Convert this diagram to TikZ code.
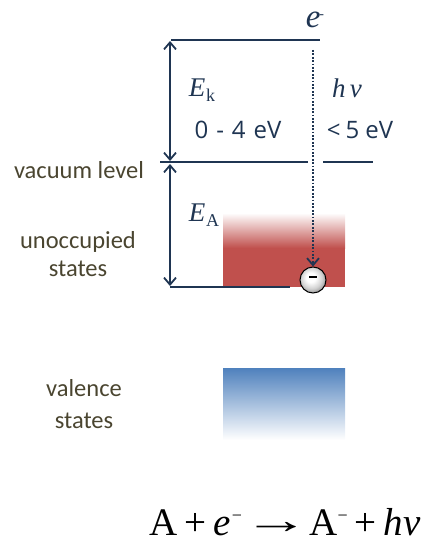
\documentclass[tikz,border=0pt]{standalone}
\usepackage{fontspec}
\setmainfont{Liberation Serif}
\newfontfamily\lblfont{Carlito}
\newfontfamily\evfont{Open Sans}
\usetikzlibrary{arrows.meta}
\definecolor{navy}{HTML}{1F3552}
\definecolor{olivetxt}{HTML}{4A4530}
\definecolor{redst}{HTML}{C0504D}
\definecolor{bluest}{HTML}{4F81BD}
\pgfdeclareradialshading{elball}{\pgfpoint{-5bp}{6bp}}{color(0bp)=(white); color(9bp)=(white); color(20bp)=(gray!35); color(27bp)=(gray!75); color(50bp)=(gray!75)}
\tikzset{
  levelline/.style={draw=navy, line width=1.8pt},
  dblarrow/.style={draw=navy, line width=1.8pt, {Straight Barb[length=7pt,width=12pt]}-{Straight Barb[length=7pt,width=12pt]}},
  dotarrow/.style={draw=navy, line width=1.8pt, dash pattern=on 1.8pt off 1.6pt, -{Straight Barb[length=7pt,width=12pt]}},
  lbl/.style={text=olivetxt, font=\lblfont\fontsize{24.5}{28}\selectfont, align=center, inner sep=0pt},
  evtxt/.style={text=navy, font=\evfont\fontsize{24}{28}\selectfont, inner sep=0pt},
  symtxt/.style={text=navy, font=\fontsize{27}{30}\selectfont, inner sep=0pt},
}
\begin{document}
\begin{tikzpicture}[x=1pt,y=-1pt]
\useasboundingbox (0,0) rectangle (424,543);
% states
\shade[top color=white, bottom color=redst] (223,213) rectangle (345,248);
\fill[redst] (223,247.5) rectangle (345,287);
\shade[top color=bluest, middle color=bluest!35, bottom color=white] (223,368) rectangle (345,440);
% coordinates
\coordinate (topL) at (171,40);
\coordinate (topR) at (320,40);
\coordinate (vacL) at (160,162);
\coordinate (vacM) at (308,162);
\coordinate (vacN) at (323,162);
\coordinate (vacR) at (373,162);
\coordinate (botL) at (170,287);
\coordinate (botR) at (290,287);
\coordinate (a1t) at (170,41);
\coordinate (a1b) at (170,161);
\coordinate (a2t) at (170,164);
\coordinate (a2b) at (170,286);
\coordinate (dtop) at (313,50);
% levels
\draw[levelline] (topL) -- (topR);
\draw[levelline] (vacL) -- (vacM);
\draw[levelline] (vacN) -- (vacR);
\draw[levelline] (botL) -- (botR);
\draw[dblarrow] (a1t) -- (a1b);
\draw[dblarrow] (a2t) -- (a2b);
% electron
\node[circle, draw=black, line width=1pt, minimum size=26pt, inner sep=0pt, shading=elball] (el) at (313,280) {};
\draw[line width=2.2pt] ([xshift=-4pt,yshift=3pt]el.center) -- ([xshift=4pt,yshift=3pt]el.center);
\draw[dotarrow] (dtop) -- (el.north);
% texts
\node[symtxt, font=\fontsize{33}{34}\selectfont] (e) at (315,20) {\itshape e\kern-1pt\raisebox{9pt}{\fontsize{14}{14}\selectfont -}};
\node[symtxt] (Ek) at (202,90) {\itshape E\kern1pt\raisebox{-5pt}{\upshape\fontsize{18}{18}\selectfont k}};
\node[symtxt] (hnu) at (347,88) {\itshape h\,ν};
\node[evtxt] (ev1) at (238,130) {0\kern8pt-\kern8pt4\kern8pt eV};
\node[evtxt] (ev2) at (360,130) {<\kern5pt5\kern6pt eV};
\node[symtxt] (EA) at (204,215) {\itshape E\kern1pt\raisebox{-5pt}{\upshape\fontsize{18}{18}\selectfont A}};
\node[lbl] (vac) at (79,170) {vacuum level};
\node[lbl] (unocc) at (78,254) {unoccupied\\states};
\node[lbl, font=\lblfont\fontsize{24.5}{32}\selectfont] (val) at (84,404) {valence\\states};
\node[text=black, font=\fontsize{39}{44}\selectfont, inner sep=0pt, anchor=base] (eq) at (285,535) {A\kern7pt+\kern7pt\textit{e}\kern1pt\raisebox{14pt}{\fontsize{18}{18}\selectfont −}\kern1pt\raisebox{2pt}{\scalebox{1.7}[1]{→}}\kern0pt A\raisebox{14pt}{\fontsize{18}{18}\selectfont −}\kern7pt+\kern7pt\textit{hν}};
\end{tikzpicture}
\end{document}
